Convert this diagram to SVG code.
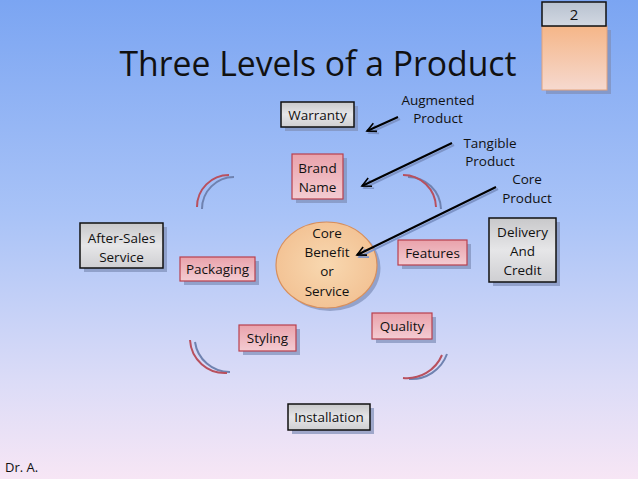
<svg xmlns="http://www.w3.org/2000/svg" width="638" height="479" viewBox="0 0 638 479">
<defs>
<linearGradient id="bg" x1="0" y1="0" x2="0" y2="1">
<stop offset="0" stop-color="#7ba5f2"/>
<stop offset="0.45" stop-color="#a9c3f7"/>
<stop offset="0.8" stop-color="#dcdcf7"/>
<stop offset="1" stop-color="#f7e6f5"/>
</linearGradient>
<linearGradient id="gray" x1="0" y1="0" x2="0" y2="1">
<stop offset="0" stop-color="#c8c8ca"/>
<stop offset="0.5" stop-color="#e6e6e8"/>
<stop offset="1" stop-color="#cfcfd2"/>
</linearGradient>
<linearGradient id="pink" x1="0" y1="0" x2="0" y2="1">
<stop offset="0" stop-color="#e9a2ab"/>
<stop offset="1" stop-color="#f4ccd2"/>
</linearGradient>
<linearGradient id="orange" x1="0" y1="0" x2="0" y2="1">
<stop offset="0" stop-color="#f5b688"/>
<stop offset="1" stop-color="#f6d9cf"/>
</linearGradient>
<radialGradient id="core" cx="0.5" cy="0.5" r="0.6">
<stop offset="0" stop-color="#f8d8b0"/>
<stop offset="1" stop-color="#f2bf90"/>
</radialGradient>
<linearGradient id="num" x1="0" y1="0" x2="0" y2="1">
<stop offset="0" stop-color="#b8c2d0"/>
<stop offset="1" stop-color="#d2d8e2"/>
</linearGradient>
<marker id="ah" viewBox="0 0 12 12" refX="10" refY="6" markerWidth="12" markerHeight="12" markerUnits="userSpaceOnUse" orient="auto">
<path d="M1,1.5 L10,6 L1,10.5" fill="none" stroke="#000" stroke-width="1.6"/>
</marker>
<marker id="ahs" viewBox="0 0 12 12" refX="10" refY="6" markerWidth="12" markerHeight="12" markerUnits="userSpaceOnUse" orient="auto">
<path d="M1,1.5 L10,6 L1,10.5" fill="none" stroke="#7d94c8" stroke-width="1.6"/>
</marker>
</defs>
<style>
text{font-family:"Open Sans","Liberation Sans",sans-serif;fill:#111;}
.lbl{font-size:13.5px;text-anchor:middle;}
.ttl{font-size:35px;text-anchor:middle;}
.shadow{fill:#7f8fb8;opacity:0.7;}
.gbox{fill:url(#gray);stroke:#111;stroke-width:1.5;}
.pbox{fill:url(#pink);stroke:#b8404e;stroke-width:1.2;}
.arc{fill:none;stroke:#b8505e;stroke-width:2;}
.arcs{fill:none;stroke:#6f82b0;stroke-width:2;}
.ln{stroke:#000;stroke-width:2;fill:none;}
.lns{stroke:#7d94c8;stroke-width:2;fill:none;}
</style>
<rect x="0" y="0" width="638" height="479" fill="url(#bg)"/>

<g id="slide-number">
<rect x="546" y="30" width="65" height="64" class="shadow"/>
<rect x="542" y="26" width="65" height="64" fill="url(#orange)" stroke="#e2a27c" stroke-width="1"/>
<rect x="542" y="2" width="64" height="24" fill="url(#num)" stroke="#111" stroke-width="1.5"/>
<text x="574" y="20" class="lbl" style="font-size:15px">2</text>
</g>

<text x="318" y="76" class="ttl" textLength="397" lengthAdjust="spacingAndGlyphs">Three Levels of a Product</text>

<g id="arcs">
<path d="M202,209 A32,32 0 0 1 234,177" class="arcs"/>
<path d="M197,207 A32,32 0 0 1 229,175" class="arc"/>
<path d="M408,177 A33,33 0 0 1 441,209" class="arcs"/>
<path d="M403,175 A33,33 0 0 1 436,207" class="arc"/>
<path d="M195,342 A35,35 0 0 0 230,372" class="arcs"/>
<path d="M190,340 A35,35 0 0 0 227,373" class="arc"/>
<path d="M447,354 A38,38 0 0 1 409,379" class="arcs"/>
<path d="M442,355 A38,38 0 0 1 403,378" class="arc"/>
</g>

<g id="augmented-label">
<text x="438" y="105" class="lbl">Augmented</text>
<text x="438" y="123" class="lbl">Product</text>
</g>
<g id="tangible-label">
<text x="490" y="148" class="lbl">Tangible</text>
<text x="490" y="166" class="lbl">Product</text>
</g>
<g id="core-label">
<text x="527" y="184" class="lbl">Core</text>
<text x="527" y="203" class="lbl">Product</text>
</g>

<g id="warranty">
<rect x="285" y="106" width="73" height="25" class="shadow"/>
<rect x="281" y="102" width="73" height="25" class="gbox"/>
<text x="317.5" y="119.5" class="lbl">Warranty</text>
</g>

<g id="brand-name">
<rect x="296" y="158" width="51" height="45" class="shadow"/>
<rect x="292" y="154" width="51" height="45" class="pbox"/>
<text x="317.5" y="173" class="lbl">Brand</text>
<text x="317.5" y="192" class="lbl">Name</text>
</g>

<g id="core-benefit">
<ellipse cx="330" cy="268" rx="50.5" ry="43" class="shadow"/>
<ellipse cx="326.5" cy="265" rx="50.5" ry="43" fill="url(#core)" stroke="#d88f5c" stroke-width="1.2"/>
<text x="327" y="238" class="lbl">Core</text>
<text x="327" y="257" class="lbl">Benefit</text>
<text x="327" y="276" class="lbl">or</text>
<text x="327" y="296" class="lbl">Service</text>
</g>

<g id="features">
<rect x="402" y="244" width="69" height="25" class="shadow"/>
<rect x="398" y="240" width="69" height="25" class="pbox"/>
<text x="432.5" y="257.5" class="lbl">Features</text>
</g>

<g id="delivery">
<rect x="493" y="222" width="67" height="64" class="shadow"/>
<rect x="489" y="218" width="67" height="64" class="gbox"/>
<text x="522.5" y="237" class="lbl">Delivery</text>
<text x="522.5" y="256" class="lbl">And</text>
<text x="522.5" y="275" class="lbl">Credit</text>
</g>

<g id="after-sales">
<rect x="84" y="227" width="83" height="45" class="shadow"/>
<rect x="80" y="223" width="83" height="45" class="gbox"/>
<text x="121.5" y="243" class="lbl">After-Sales</text>
<text x="121.5" y="262" class="lbl">Service</text>
</g>

<g id="packaging">
<rect x="184" y="261" width="75" height="24" class="shadow"/>
<rect x="180" y="257" width="75" height="24" class="pbox"/>
<text x="217.5" y="274" class="lbl">Packaging</text>
</g>

<g id="styling">
<rect x="243" y="329" width="57" height="26" class="shadow"/>
<rect x="239" y="325" width="57" height="26" class="pbox"/>
<text x="267.5" y="343" class="lbl">Styling</text>
</g>

<g id="quality">
<rect x="376" y="317" width="60" height="26" class="shadow"/>
<rect x="372" y="313" width="60" height="26" class="pbox"/>
<text x="402" y="331" class="lbl">Quality</text>
</g>

<g id="installation">
<rect x="292" y="408" width="82" height="26" class="shadow"/>
<rect x="288" y="404" width="82" height="26" class="gbox"/>
<text x="329" y="422" class="lbl">Installation</text>
</g>

<g id="connectors">
<line x1="400" y1="119" x2="369" y2="133" class="lns" marker-end="url(#ahs)"/>
<line x1="398" y1="117" x2="367" y2="131" class="ln" marker-end="url(#ah)"/>
<line x1="454" y1="145" x2="364" y2="188" class="lns" marker-end="url(#ahs)"/>
<line x1="452" y1="143" x2="362" y2="186" class="ln" marker-end="url(#ah)"/>
<line x1="498" y1="189" x2="359" y2="257" class="lns" marker-end="url(#ahs)"/>
<line x1="496" y1="187" x2="357" y2="255" class="ln" marker-end="url(#ah)"/>
</g>

<text x="5" y="472" style="font-size:13px">Dr. A.</text>
</svg>
